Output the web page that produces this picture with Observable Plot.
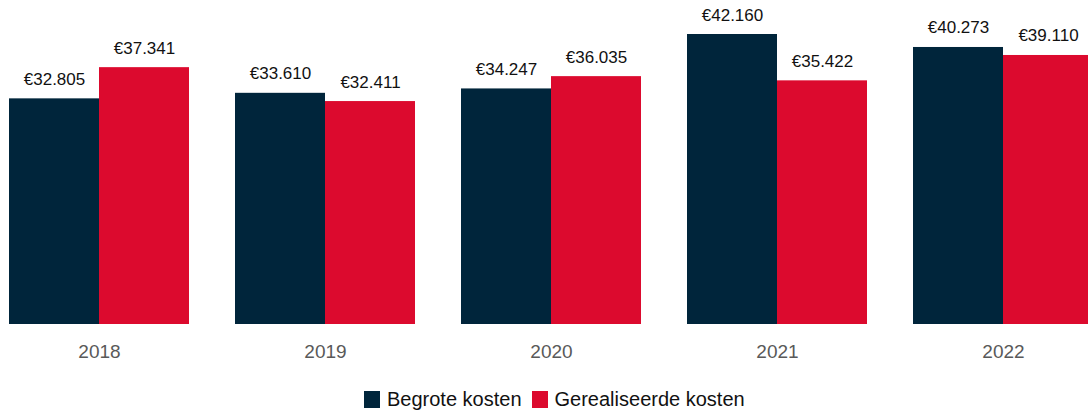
<!DOCTYPE html>
<html>
<head>
<meta charset="utf-8">
<script src="https://cdn.jsdelivr.net/npm/d3@7"></script>
<script src="https://cdn.jsdelivr.net/npm/@observablehq/plot@0.6"></script>
<style>
  body { margin: 0; background: #fff; font-family: "Liberation Sans", Arial, sans-serif; }
  #chart svg { display: block; }
  .legend { display: flex; align-items: center; margin-left: 364px; height: 40px; padding-top: 7px; font-size: 20px; color: #111; }
  .sw { width: 16px; height: 17px; display: inline-block; margin-right: 7px; }
  .item { display: flex; align-items: center; margin-right: 10px; }
</style>
</head>
<body>
<div id="chart"></div>
<div class="legend" id="legend"></div>
<script>
const years = ["2018", "2019", "2020", "2021", "2022"];
const seriesNames = ["Begrote kosten", "Gerealiseerde kosten"];
const begrote = [32805, 33610, 34247, 42160, 40273];
const gerealiseerd = [37341, 32411, 36035, 35422, 39110];
const colors = ["#00253b", "#dc0a2e"];

const data = [];
years.forEach((y, i) => {
  data.push({year: y, series: seriesNames[0], value: begrote[i]});
  data.push({year: y, series: seriesNames[1], value: gerealiseerd[i]});
});

const loc = d3.formatLocale({decimal: ",", thousands: ".", grouping: [3], currency: ["€", ""]});
const fmt = v => "€" + loc.format(",")(v);

const H = 372;
const chart = Plot.plot({
  width: 1088,
  height: H,
  marginTop: 34,
  marginBottom: H - 324,
  marginLeft: 0,
  marginRight: 0,
  style: {fontFamily: "'Liberation Sans', Arial, sans-serif", background: "#fff"},
  fx: {domain: years, range: [-14, 1116], paddingInner: 46/226, paddingOuter: 23/226, label: null, axis: null},
  x: {domain: seriesNames, padding: 0, axis: null},
  y: {domain: [0, d3.max([...begrote, ...gerealiseerd])], axis: null},
  color: {domain: seriesNames, range: colors},
  marks: [
    Plot.barY(data, {fx: "year", x: "series", y: "value", fill: "series"}),
    Plot.text(data, {fx: "year", x: "series", y: "value", text: d => fmt(d.value), lineAnchor: "bottom", dy: -14, fontSize: 17, fill: "#111"}),
    Plot.axisFx({anchor: "bottom", tickSize: 0, tickPadding: 19.5, fontSize: 19, color: "#595959", label: null})
  ]
});
document.getElementById("chart").appendChild(chart);

const leg = document.getElementById("legend");
seriesNames.forEach((s, i) => {
  const it = document.createElement("div");
  it.className = "item";
  const sw = document.createElement("span");
  sw.className = "sw";
  sw.style.background = colors[i];
  const t = document.createElement("span");
  t.textContent = s;
  it.appendChild(sw); it.appendChild(t);
  leg.appendChild(it);
});
</script>
</body>
</html>
